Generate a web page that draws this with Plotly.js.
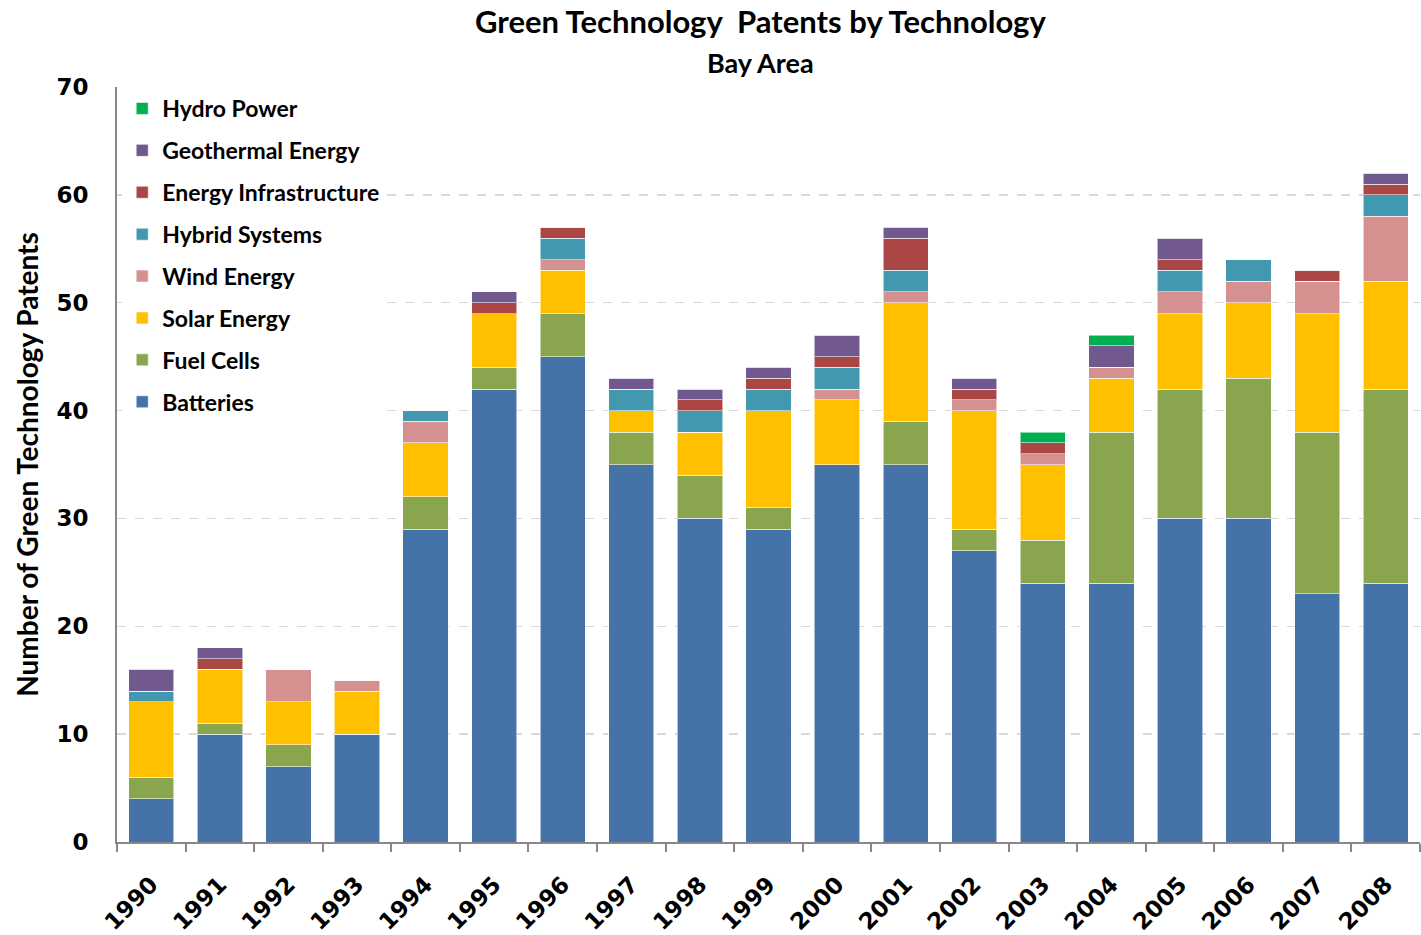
<!DOCTYPE html>
<html>
<head>
<meta charset="utf-8">
<script src="https://cdn.plot.ly/plotly-3.0.1.min.js"></script>
<style>html,body{margin:0;padding:0;background:#fff;}#chart{width:1421px;height:935px;}</style>
</head>
<body>
<div id="chart"></div>
<script>
var years = ['1990','1991','1992','1993','1994','1995','1996','1997','1998','1999','2000','2001','2002','2003','2004','2005','2006','2007','2008'];
var batteries      = [4,10,7,10,29,42,45,35,30,29,35,35,27,24,24,30,30,23,24];
var fuelCells      = [2,1,2,0,3,2,4,3,4,2,0,4,2,4,14,12,13,15,18];
var solarEnergy    = [7,5,4,4,5,5,4,2,4,9,6,11,11,7,5,7,7,11,10];
var windEnergy     = [0,0,3,1,2,0,1,0,0,0,1,1,1,1,1,2,2,3,6];
var hybridSystems  = [1,0,0,0,1,0,2,2,2,2,2,2,0,0,0,2,2,0,2];
var energyInfra    = [0,1,0,0,0,1,1,0,1,1,1,3,1,1,0,1,0,1,1];
var geothermal     = [2,1,0,0,0,1,0,1,1,1,2,1,1,0,2,2,0,0,1];
var hydroPower     = [0,0,0,0,0,0,0,0,0,0,0,0,0,1,1,0,0,0,0];

var seriesNames  = ['Batteries','Fuel Cells','Solar Energy','Wind Energy','Hybrid Systems','Energy Infrastructure','Geothermal Energy','Hydro Power'];
var seriesValues = [batteries,fuelCells,solarEnergy,windEnergy,hybridSystems,energyInfra,geothermal,hydroPower];
var seriesColors = ['#4572A7','#89A54E','#FFC000','#D4918F','#4198AF','#AA4643','#71588F','#00B050'];

var traces = seriesNames.map(function(n,i){
  return {
    type:'bar', name:n, x:years, y:seriesValues[i],
    marker:{color:seriesColors[i], line:{color:'rgba(255,255,255,0.55)', width:1}},
    legendgroup:'g'+i,
    legendrank:1000 - i*10
  };
});

var layout = {
  width:1421, height:935,
  margin:{l:117, r:1, t:87, b:93},
  paper_bgcolor:'#fff', plot_bgcolor:'#fff',
  barmode:'stack', bargap:0.34,
  showlegend:true,
  legend:{x:0.004, y:1, xanchor:'left', yanchor:'top', bgcolor:'#fff',
          traceorder:'grouped', tracegroupgap:9,
          font:{family:'Lato', size:23, color:'#000', weight:'bold'}},
  xaxis:{type:'category', showline:true, linecolor:'#888', linewidth:2,
         ticks:'outside', tickson:'boundaries', ticklen:8, tickwidth:2, tickcolor:'#888',
         tickangle:-45, ticklabelstandoff:18,
         tickfont:{family:'DejaVu Sans', size:23, color:'#000', weight:'bold'},
         showgrid:false, fixedrange:true},
  yaxis:{range:[0,70], dtick:10, showline:true, linecolor:'#888', linewidth:2,
         showgrid:true, gridcolor:'#D9D9D9', gridwidth:1.5, griddash:'dash',
         ticks:'', ticklabelstandoff:22, zeroline:false,
         tickfont:{family:'DejaVu Sans', size:23, color:'#000', weight:'bold'},
         title:{text:'Number of Green Technology Patents', standoff:10,
                font:{family:'Lato', size:28, color:'#000', weight:'bold'}}},
  annotations:[
    {text:'Green Technology  Patents by Technology', xref:'paper', yref:'paper',
     x:0.494, y:1, yshift:66, xanchor:'center', yanchor:'middle', showarrow:false,
     font:{family:'Lato', size:31, color:'#000', weight:'bold'}},
    {text:'Bay Area', xref:'paper', yref:'paper',
     x:0.494, y:1, yshift:25, xanchor:'center', yanchor:'middle', showarrow:false,
     font:{family:'Lato', size:27, color:'#000', weight:'bold'}}
  ]
};

Plotly.newPlot('chart', traces, layout, {displayModeBar:false, staticPlot:true});
</script>
</body>
</html>
